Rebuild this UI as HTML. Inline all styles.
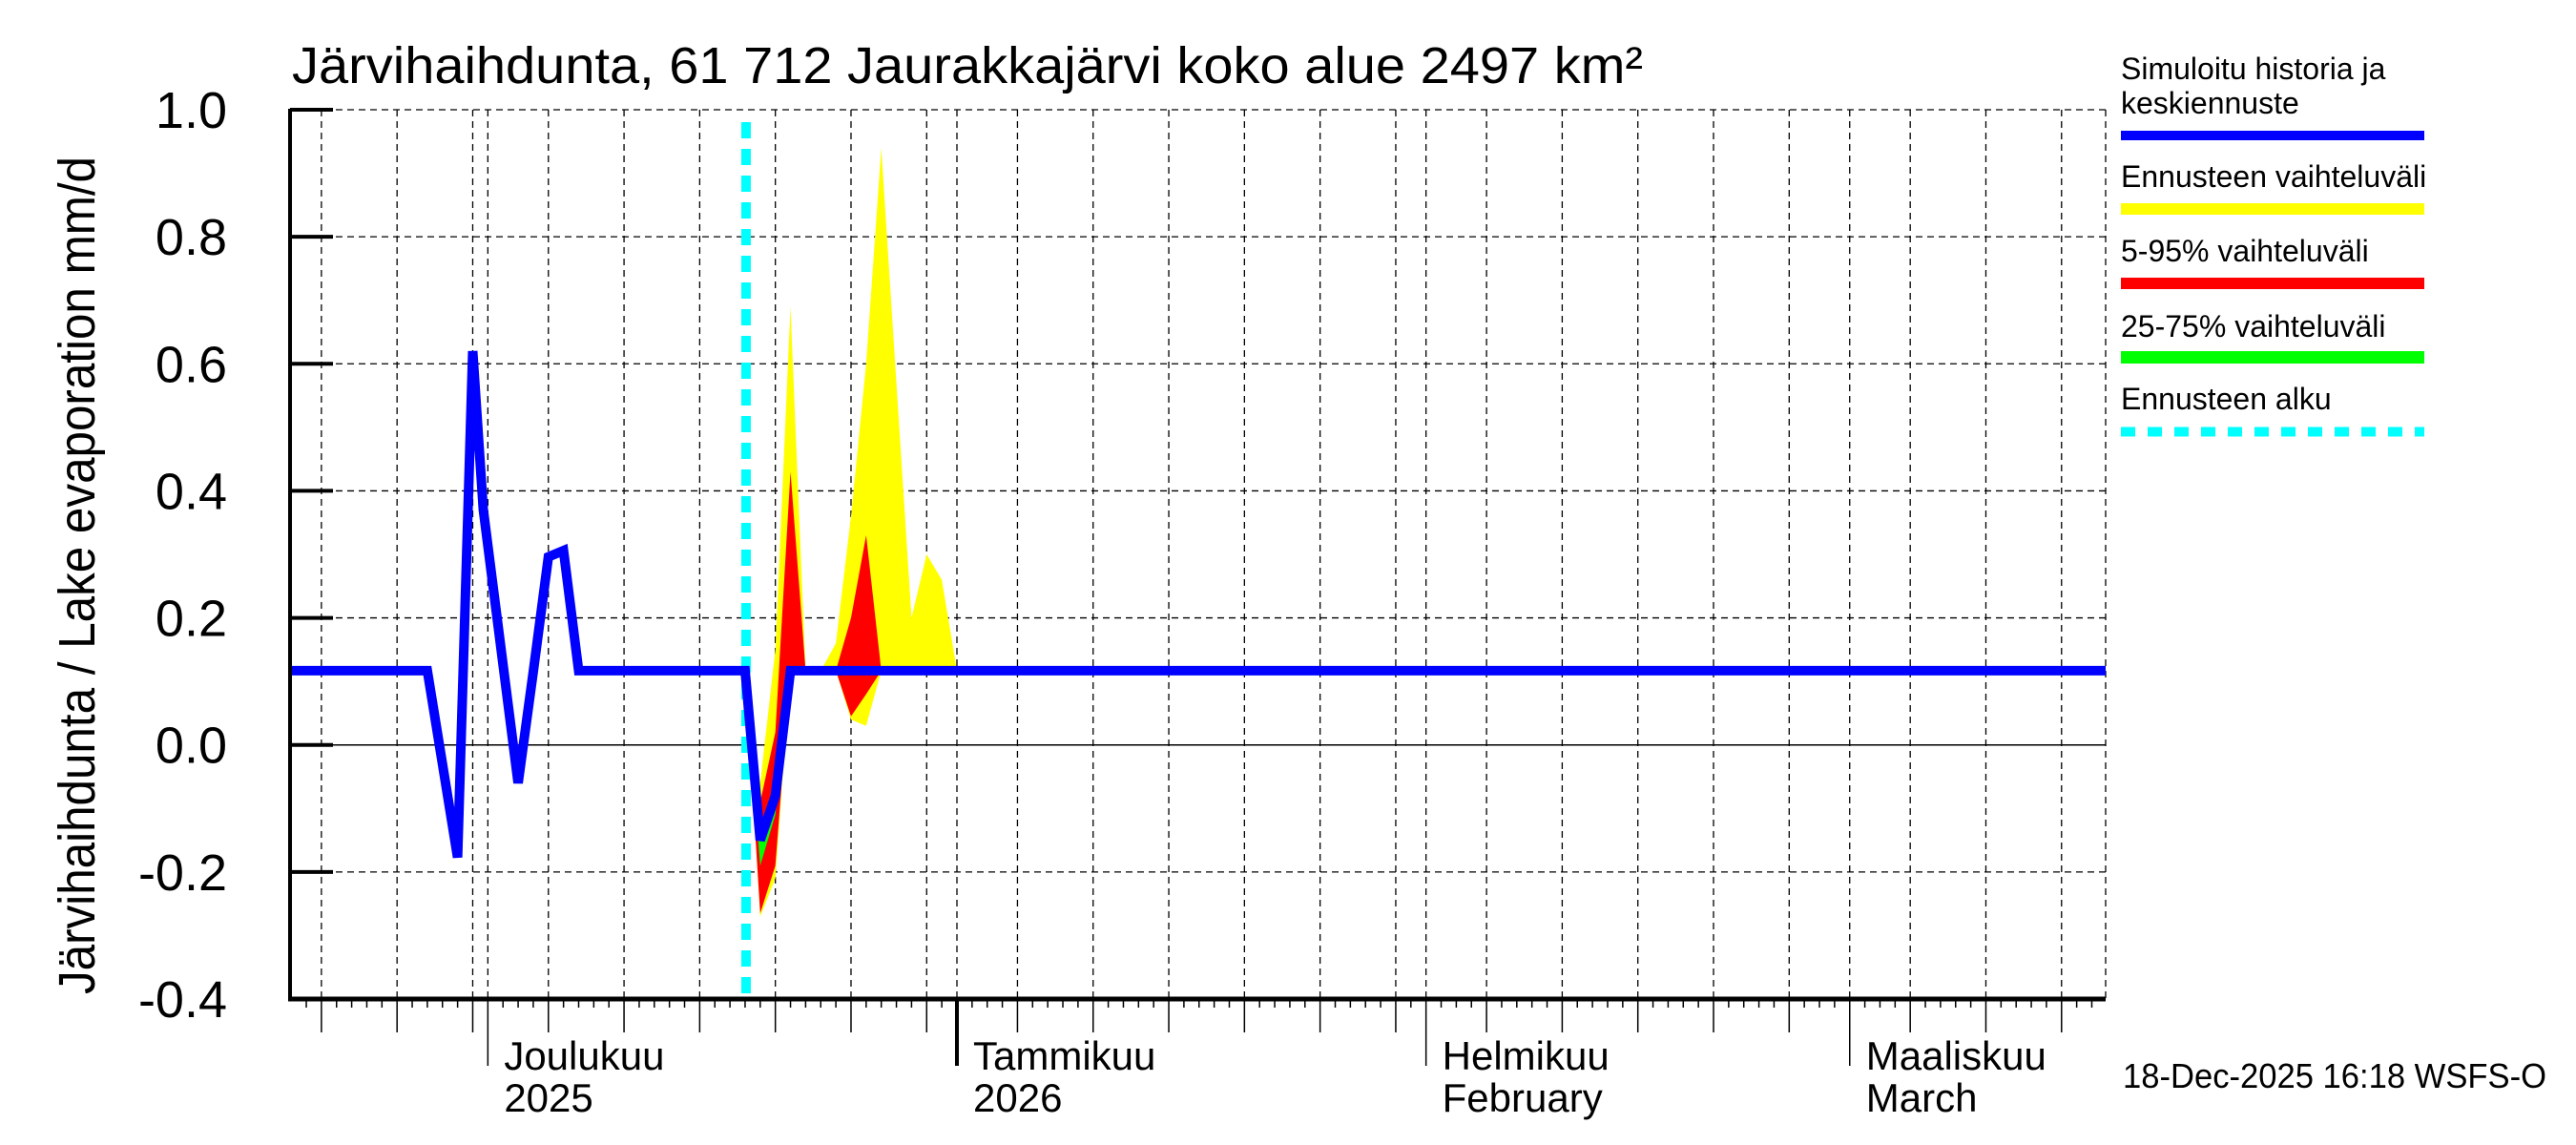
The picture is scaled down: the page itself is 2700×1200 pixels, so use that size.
<!DOCTYPE html>
<html><head><meta charset="utf-8">
<style>
html,body{margin:0;padding:0;background:#fff;}
svg{display:block;font-family:"Liberation Sans",sans-serif;}
</style></head>
<body>
<svg id="chart" width="2700" height="1200" viewBox="0 0 2700 1200" xmlns="http://www.w3.org/2000/svg">
<rect x="0" y="0" width="2700" height="1200" fill="#fff"/>
<g id="grid"></g>
<g id="bands"></g>
<g id="lines"></g>
<g id="axes"></g>
<text x="306" y="87" font-size="54" textLength="1416" lengthAdjust="spacingAndGlyphs">Järvihaihdunta, 61 712 Jaurakkajärvi koko alue 2497 km²</text>
<text transform="translate(99,1042) rotate(-90)" font-size="54" textLength="878" lengthAdjust="spacingAndGlyphs">Järvihaihdunta / Lake evaporation   mm/d</text>
<text x="2225" y="1140" font-size="36" textLength="444" lengthAdjust="spacingAndGlyphs">18-Dec-2025 16:18 WSFS-O</text>
<g font-size="32">
<text x="2223" y="83">Simuloitu historia ja</text>
<text x="2223" y="119">keskiennuste</text>
<rect x="2223" y="137" width="318" height="10" fill="#0000ff"/>
<text x="2223" y="196">Ennusteen vaihteluväli</text>
<rect x="2223" y="213" width="318" height="12" fill="#ffff00"/>
<text x="2223" y="274">5-95% vaihteluväli</text>
<rect x="2223" y="291" width="318" height="12" fill="#ff0000"/>
<text x="2223" y="353">25-75% vaihteluväli</text>
<rect x="2223" y="368" width="318" height="13" fill="#00ff00"/>
<text x="2223" y="429">Ennusteen alku</text>
<line x1="2223" y1="452.5" x2="2541" y2="452.5" stroke="#00ffff" stroke-width="10" stroke-dasharray="15 13"/>
</g>
</svg>
<script>
// days relative to 1 Jan 2026
const blueDays = [-45,-35,-33,-32,-31.3,-29,-28,-27,-26,-25,-14,-13,-12,-11,80];
const blueVals = [0.117,0.117,-0.177,0.62,0.37,-0.06,0.115,0.296,0.306,0.117,0.117,-0.15,-0.08,0.117,0.117];
const bandDays = [-14,-13,-12,-11,-10,-9,-8,-7,-6,-5,-4,-3,-2,-1,0];
const yellowHi = [0.117,-0.06,0.15,0.69,0.117,0.117,0.16,0.36,0.6,0.94,0.57,0.2,0.3,0.26,0.117];
const yellowLo = [0.117,-0.27,-0.21,0.117,0.117,0.117,0.117,0.04,0.03,0.117,0.117,0.117,0.117,0.117,0.117];
const redHi = [0.117,-0.09,0.02,0.43,0.117,0.117,0.117,0.2,0.33,0.117,0.117,0.117,0.117,0.117,0.117];
const redLo = [0.117,-0.265,-0.19,0.117,0.117,0.117,0.117,0.045,0.08,0.117,0.117,0.117,0.117,0.117,0.117];
const greenHi = [0.117,-0.13,-0.06,0.117,0.117,0.117,0.117,0.117,0.117,0.117,0.117,0.117,0.117,0.117,0.117];
const greenLo = [0.117,-0.19,-0.11,0.117,0.117,0.117,0.117,0.117,0.117,0.117,0.117,0.117,0.117,0.117,0.117];
const forecastStartDay = -14;
const yTicks = [1.0,0.8,0.6,0.4,0.2,0.0,-0.2,-0.4];
const yTickLabels = ["1.0","0.8","0.6","0.4","0.2","0.0","-0.2","-0.4"];
const monthStarts = [-31,0,31,59];
const monthLabels1 = ["Joulukuu","Tammikuu","Helmikuu","Maaliskuu"];
const monthLabels2 = ["2025","2026","February","March"];
const monthLens = [30,31,31,28,31];
const monthStartAll = [-61,-31,0,31,59];

const L=304,R=2207,T=115,B=1047,X0=1003,PPD=15.86;
const x = d => X0 + d*PPD;
const y = v => T + (1.0 - v)/1.4*(B-T);
const NS="http://www.w3.org/2000/svg";
function mk(tag, parent, attrs){const e=document.createElementNS(NS,tag);for(const k in attrs)e.setAttribute(k,attrs[k]);parent.appendChild(e);return e;}
const grid=document.getElementById('grid'),bands=document.getElementById('bands'),lines=document.getElementById('lines'),axes=document.getElementById('axes');

// horizontal grid
yTicks.forEach((v,i)=>{
  if(v===-0.4) return;
  const g=mk('line',grid,{x1:L,x2:R,y1:y(v),y2:y(v),stroke:'#000','stroke-width':v===0?1.5:1.3,'stroke-dasharray':v===0?'none':'7 5'});
  
  
});
// vertical grid + ticks
for(let m=0;m<monthStartAll.length;m++){
  const s=monthStartAll[m], len=monthLens[m];
  for(let k=0;k<len;k++){
    const d=s+k, xx=x(d);
    if(xx<L+2||xx>R) continue;
    const dom=k+1;
    const five=(k===0)||(dom%5===0 && dom<=30);
    if(five){
      const gl=mk('line',grid,{x1:xx,x2:xx,y1:T,y2:B,stroke:'#000','stroke-width':1.3,'stroke-dasharray':'7 5'});
      
      
    }
    const tl=k===0?1117:(dom%5===0?1082:1056);
    const t=mk('line',axes,{x1:xx,x2:xx,y1:B,y2:tl,stroke:'#000','stroke-width':(k===0&&d===0)?4:1.5});
    
    
  }
}
// last grid line at right edge
{const gl=mk('line',grid,{x1:R,x2:R,y1:T,y2:B,stroke:'#000','stroke-width':1.3,'stroke-dasharray':'7 5'});

}

function band(hi,lo,color,name){
  let pts=[];
  bandDays.forEach((d,i)=>pts.push(x(d)+','+y(hi[i])));
  for(let i=bandDays.length-1;i>=0;i--) pts.push(x(bandDays[i])+','+y(lo[i]));
  const p=mk('polygon',bands,{points:pts.join(' '),fill:color});
  
  
}
band(yellowHi,yellowLo,'#ffff00','band-range');
band(redHi,redLo,'#ff0000','band-5-95');
band(greenHi,greenLo,'#00ff00','band-25-75');

// forecast start
{const c=mk('line',lines,{x1:x(forecastStartDay)+1,x2:x(forecastStartDay)+1,y1:T+13,y2:B,stroke:'#00ffff','stroke-width':10,'stroke-dasharray':'17 11'});

}

// blue line
{const pts=blueDays.map((d,i)=>Math.max(L,Math.min(R,x(d)))+','+y(blueVals[i])).join(' ');
const p=mk('polyline',lines,{points:pts,fill:'none',stroke:'#0000ff','stroke-width':10,'stroke-linejoin':'miter','stroke-miterlimit':3});

}

// axes
{const a=mk('line',axes,{x1:L,x2:L,y1:T-1,y2:B+2,stroke:'#000','stroke-width':4});


const b=mk('line',axes,{x1:L-2,x2:R,y1:B,y2:B,stroke:'#000','stroke-width':5});

}
yTicks.forEach((v,i)=>{
  const t=mk('line',axes,{x1:L,x2:L+45,y1:y(v),y2:y(v),stroke:'#000','stroke-width':4});
  
  
  const tx=mk('text',axes,{x:238,y:y(v)+19,'font-size':54,'text-anchor':'end'});
  tx.textContent=yTickLabels[i];
  
  
});
monthStarts.forEach((d,i)=>{
  const xx=x(d)+17;
  const t1=mk('text',axes,{x:xx,y:1121,'font-size':42});
  t1.textContent=monthLabels1[i];
  
  
  const t2=mk('text',axes,{x:xx,y:1165,'font-size':42});
  t2.textContent=monthLabels2[i];
  
  
});
</script>
</body></html>
